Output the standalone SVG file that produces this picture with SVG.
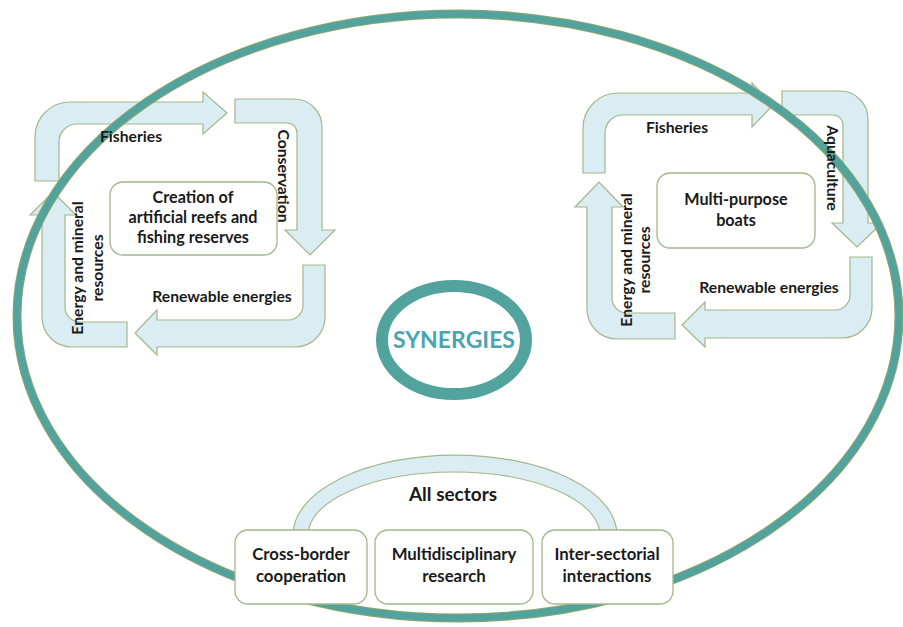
<svg xmlns="http://www.w3.org/2000/svg" width="903" height="627" viewBox="0 0 903 627">
<style>
.arrow{fill:#DAEDF3;stroke:#A3B78A;stroke-width:1.2;stroke-linejoin:miter}
.box{fill:#FFFFFF;stroke:#A3B78A;stroke-width:1.3}
.lbl{font-family:Lato,"Liberation Sans",sans-serif;font-weight:bold;fill:#1A1A1A;text-anchor:middle}
.s15{font-size:15.7px}
.s16{font-size:16.2px}
.s17{font-size:16.8px}
</style>
<rect width="903" height="627" fill="#FFFFFF"/>
<g id="connectors">
  <g id="left-cycle-arrows">
    <path class="arrow" d="M35,181 L35,137 A35,35 0 0 1 70,102 L203,102 L203,92 L227,113 L203,134 L203,124 L77,124 A18,18 0 0 0 59,142 L59,181 Z"/>
    <path class="arrow" d="M235,99 L294,99 A28,28 0 0 1 322,127 L322,230 L335,230 L310,255 L285,230 L297,230 L297,133 A10,10 0 0 0 287,123 L235,123 Z"/>
    <path class="arrow" d="M303,265 L325,265 L325,317 A30,30 0 0 1 295,347 L157,347 L157,355 L135,333 L157,310 L157,320 L288,320 A15,15 0 0 0 303,305 Z"/>
    <path class="arrow" d="M127,322 L80,322 A15,15 0 0 1 65,307 L65,215 L76,215 L53,192 L30,215 L42,215 L42,317 A30,30 0 0 0 72,347 L127,347 Z"/>
  </g>
  <g id="right-cycle-arrows">
    <path class="arrow" d="M583,173 L583,128 A35,35 0 0 1 618,93 L752,93 L752,83 L773,105 L752,127 L752,115 L623,115 A18,18 0 0 0 605,133 L605,173 Z"/>
    <path class="arrow" d="M782,91 L840,91 A28,28 0 0 1 868,119 L868,223 L882,223 L857,247 L832,223 L843,223 L843,125 A10,10 0 0 0 833,115 L782,115 Z"/>
    <path class="arrow" d="M850,257 L872,257 L872,308 A30,30 0 0 1 842,338 L705,338 L705,347 L682,325 L705,302 L705,310 L835,310 A15,15 0 0 0 850,295 Z"/>
    <path class="arrow" d="M675,313 L627,313 A15,15 0 0 1 612,298 L612,207 L623,207 L599,182 L575,207 L587,207 L587,309 A30,30 0 0 0 617,339 L675,339 Z"/>
  </g>
  <path id="all-sectors-arch" class="arrow" d="M293,535 A162,80 0 0 1 617,535 L600,535 A146,63 0 0 0 308,535 Z"/>
</g>
<g id="outer-ellipse">
  <ellipse cx="458" cy="316" rx="441" ry="302" fill="none" stroke="#8FA66E" stroke-width="9"/>
  <ellipse cx="458" cy="316" rx="441" ry="302" fill="none" stroke="#52A29D" stroke-width="7"/>
</g>
<g id="labels">
  <text class="lbl s15" x="131" y="142">Fisheries</text>
  <text class="lbl s15" transform="translate(283,176) rotate(90)" x="0" y="5">Conservation</text>
  <text class="lbl s15" x="222" y="302">Renewable energies</text>
  <g transform="translate(88,268) rotate(-90)">
    <text class="lbl s15" x="0" y="-5">Energy and mineral</text>
    <text class="lbl s15" x="0" y="15">resources</text>
  </g>
  <text class="lbl s15" x="677" y="133">Fisheries</text>
  <text class="lbl s15" transform="translate(832,168) rotate(90)" x="0" y="5">Aquaculture</text>
  <text class="lbl s15" x="769" y="293">Renewable energies</text>
  <g transform="translate(636,260) rotate(-90)">
    <text class="lbl s15" x="0" y="-4">Energy and mineral</text>
    <text class="lbl s15" x="0" y="14">resources</text>
  </g>
  <text class="lbl" x="453" y="501" font-size="19">All sectors</text>
</g>
<g id="node-reefs">
  <rect class="box" x="110" y="182" width="167" height="73" rx="13"/>
  <text class="lbl s16" x="193" y="203">Creation of</text>
  <text class="lbl s16" x="193" y="223">artificial reefs and</text>
  <text class="lbl s16" x="193" y="243">fishing reserves</text>
</g>
<g id="node-boats">
  <rect class="box" x="657" y="173" width="158" height="75" rx="13"/>
  <text class="lbl s16" x="736" y="205">Multi-purpose</text>
  <text class="lbl s16" x="736" y="226">boats</text>
</g>
<g id="node-synergies">
  <ellipse cx="454" cy="340" rx="72" ry="54" fill="#FFFFFF" stroke="#52A29D" stroke-width="12"/>
  <text x="454" y="348" font-family="Lato,'Liberation Sans',sans-serif" font-weight="bold" font-size="23" fill="#4AA5B0" text-anchor="middle">SYNERGIES</text>
</g>
<g id="node-crossborder">
  <rect class="box" x="235" y="530" width="132" height="74" rx="13"/>
  <text class="lbl s17" x="301" y="560">Cross-border</text>
  <text class="lbl s17" x="301" y="582">cooperation</text>
</g>
<g id="node-research">
  <rect class="box" x="375" y="530" width="158" height="74" rx="13"/>
  <text class="lbl s17" x="454" y="560">Multidisciplinary</text>
  <text class="lbl s17" x="454" y="582">research</text>
</g>
<g id="node-intersectorial">
  <rect class="box" x="542" y="530" width="131" height="74" rx="13"/>
  <text class="lbl s17" x="607" y="560">Inter-sectorial</text>
  <text class="lbl s17" x="607" y="582">interactions</text>
</g>
</svg>
